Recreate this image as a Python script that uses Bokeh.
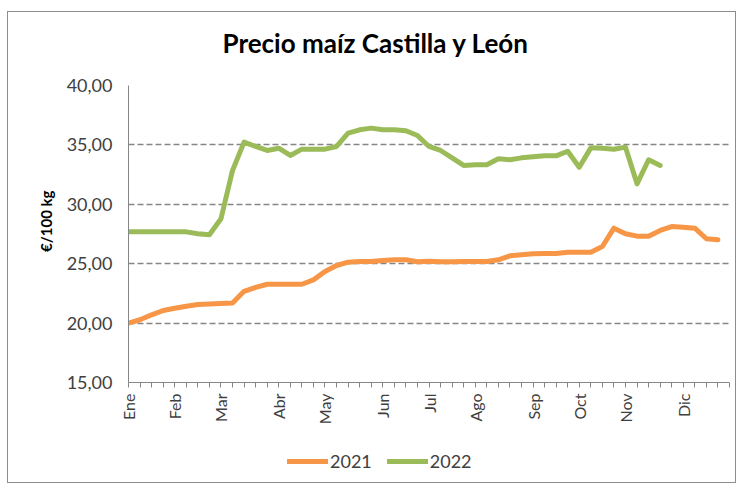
import math
from bokeh.plotting import figure
from bokeh.layouts import column
from bokeh.models import Range1d, FixedTicker, Legend, LegendItem, Title
from bokeh.embed import file_html
from bokeh.resources import INLINE

# ---- data ----
months = ["Ene", "Feb", "Mar", "Abr", "May", "Jun", "Jul", "Ago", "Sep", "Oct", "Nov", "Dic"]
month_week = [0, 4, 8, 13, 17, 22, 26, 30, 35, 39, 43, 48]
n_weeks = 53
y_ticks = [15, 20, 25, 30, 35, 40]
y_tick_labels = ["15,00", "20,00", "25,00", "30,00", "35,00", "40,00"]
series_names = ["2021", "2022"]

precio_2021 = [20.0, 20.28, 20.7, 21.06, 21.25, 21.42, 21.56, 21.6, 21.65, 21.7,
               22.68, 23.0, 23.27, 23.27, 23.27, 23.27, 23.64, 24.34, 24.85, 25.13,
               25.18, 25.18, 25.27, 25.33, 25.33, 25.16, 25.2, 25.16, 25.16, 25.18,
               25.18, 25.18, 25.33, 25.66, 25.75, 25.83, 25.85, 25.85, 25.97, 25.97,
               25.97, 26.45, 27.99, 27.52, 27.32, 27.32, 27.8, 28.13, 28.07, 27.99,
               27.1, 27.01]
precio_2022 = [27.68, 27.68, 27.68, 27.68, 27.68, 27.68, 27.52, 27.43, 28.78, 32.85,
               35.23, 34.87, 34.53, 34.72, 34.11, 34.64, 34.64, 34.64, 34.87, 35.99,
               36.27, 36.41, 36.27, 36.27, 36.19, 35.79, 34.87, 34.53, 33.91, 33.27,
               33.33, 33.33, 33.83, 33.75, 33.91, 34.0, 34.08, 34.08, 34.47, 33.12,
               34.75, 34.72, 34.64, 34.81, 31.72, 33.75, 33.27]

weeks_2021 = list(range(len(precio_2021)))
weeks_2022 = list(range(len(precio_2022)))
week_ticks = list(range(n_weeks))

FONT = "Lato"
TXT = "#404040"
GRID = "#868686"
C21 = "#F79646"
C22 = "#9BBB59"

p = figure(width=727, height=430, output_backend="svg", toolbar_location=None,
           x_range=Range1d(0, n_weeks - 1), y_range=Range1d(y_ticks[0], y_ticks[-1]),
           min_border_left=120, min_border_right=6, min_border_top=73, min_border_bottom=60,
           title="Precio maíz Castilla y León")
p.outline_line_color = None
p.background_fill_color = "white"
p.border_fill_color = "white"

# title (outermost above panel) + spacer panel between it and the frame
p.title.align = "left"
p.title.offset = 94
p.title.standoff = 0
p.title.vertical_align = "middle"
p.title.text_font = FONT
p.title.text_font_style = "bold"
p.title.text_font_size = "26px"
p.title.text_color = "black"
spacer = Title(text=" ", text_font_size="1px", standoff=23)
p.add_layout(spacer, "above")

# x axis
xa = p.xaxis[0]
xa.ticker = FixedTicker(ticks=week_ticks)
overrides = {w: "" for w in week_ticks}
overrides.update({w: m for w, m in zip(month_week, months)})
xa.major_label_overrides = overrides
xa.major_label_orientation = math.pi / 2
xa.major_tick_out = 5
xa.major_tick_in = 0
xa.minor_tick_out = 0
xa.minor_tick_in = 0
xa.axis_line_color = GRID
xa.major_tick_line_color = GRID
xa.major_label_standoff = 6
xa.major_label_text_font = FONT
xa.major_label_text_font_size = "16px"
xa.major_label_text_color = TXT

# y axis
ya = p.yaxis[0]
ya.ticker = FixedTicker(ticks=y_ticks)
ya.major_label_overrides = dict(zip(y_ticks, y_tick_labels))
ya.major_tick_out = 0
ya.major_tick_in = 0
ya.minor_tick_out = 0
ya.minor_tick_in = 0
ya.axis_line_color = GRID
ya.major_label_standoff = 16
ya.major_label_text_font = FONT
ya.major_label_text_font_size = "18px"
ya.major_label_text_color = TXT
ya.axis_label = "\u00a0" * 7 + "€/100 kg"
ya.axis_label_text_font = FONT
ya.axis_label_text_font_style = "bold"
ya.axis_label_text_font_size = "15px"
ya.axis_label_text_color = "black"
ya.axis_label_standoff = 9

p.xgrid.visible = False
p.ygrid.ticker = FixedTicker(ticks=y_ticks)
p.ygrid.grid_line_color = GRID
p.ygrid.grid_line_dash = "6 3"
p.ygrid.grid_line_width = 1.3

p.line(weeks_2021, precio_2021, line_color=C21, line_width=5,
       line_join="round", line_cap="round")
p.line(weeks_2022, precio_2022, line_color=C22, line_width=5,
       line_join="round", line_cap="round")

# legend strip below the chart (its frame is aligned with the chart frame)
lf = figure(width=727, height=40, output_backend="svg", toolbar_location=None,
            x_range=Range1d(0, 1), y_range=Range1d(0, 1),
            x_axis_location=None, y_axis_location=None,
            min_border=0, min_border_left=0, min_border_right=0,
            min_border_top=0, min_border_bottom=0)
lf.outline_line_color = None
lf.grid.visible = False
lf.background_fill_color = "white"
lf.border_fill_color = "white"
nan = float("nan")
k21 = lf.line([nan, nan], [nan, nan], line_color=C21, line_width=5, line_cap="round")
k22 = lf.line([nan, nan], [nan, nan], line_color=C22, line_width=5, line_cap="round")
legend = Legend(items=[LegendItem(label=series_names[0], renderers=[k21]),
                       LegendItem(label=series_names[1], renderers=[k22])],
                orientation="horizontal", location=(159, 10),
                glyph_width=41, glyph_height=20, label_height=20, label_standoff=2,
                spacing=15, padding=0, margin=0, border_line_color=None,
                background_fill_alpha=0, label_text_font=FONT,
                label_text_font_size="18px", label_text_color=TXT)
lf.add_layout(legend)

layout = column(p, lf, spacing=0)
layout.styles = {"margin-left": "7px", "margin-top": "11px", "border": "1px solid #8c8c8c"}

open("out.html", "w").write(file_html(layout, INLINE))
